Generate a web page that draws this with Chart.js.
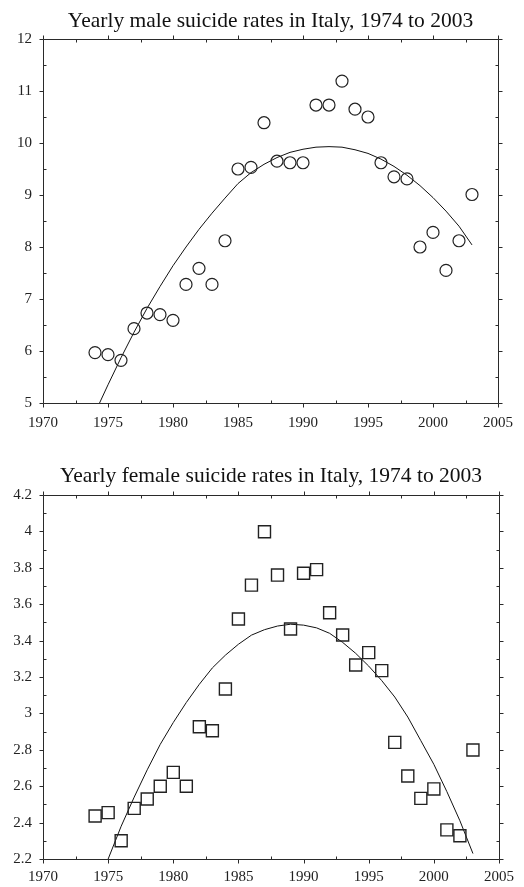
<!DOCTYPE html>
<html><head><meta charset="utf-8">
<script src="https://cdn.jsdelivr.net/npm/chart.js@4.4.1/dist/chart.umd.min.js"></script>
<style>
html,body{margin:0;padding:0;background:#fff;}
#c1{position:absolute;left:0;top:0;}
#c2{position:absolute;left:0;top:440px;}
</style></head><body>
<canvas id="c1" width="524" height="440"></canvas>
<canvas id="c2" width="524" height="447"></canvas>
<script>
const years = [1974,1975,1976,1977,1978,1979,1980,1981,1982,1983,1984,1985,1986,1987,1988,1989,1990,1991,1992,1993,1994,1995,1996,1997,1998,1999,2000,2001,2002,2003];
const maleRates = [5.97,5.93,5.82,6.43,6.73,6.70,6.59,7.28,7.59,7.28,8.12,9.50,9.53,10.39,9.65,9.62,9.62,10.73,10.73,11.19,10.65,10.50,9.62,9.35,9.31,8.00,8.28,7.55,8.12,9.01];
const femaleRates = [2.436,2.455,2.30,2.478,2.53,2.60,2.676,2.60,2.927,2.905,3.134,3.519,3.705,3.998,3.76,3.464,3.77,3.79,3.553,3.431,3.266,3.334,3.235,2.841,2.656,2.533,2.585,2.36,2.328,2.799];
const maleFitYears = [1974.35,1975,1976,1977,1978,1979,1980,1981,1982,1983,1984,1985,1986,1987,1988,1989,1990,1991,1992,1993,1994,1995,1996,1997,1998,1999,2000,2001,2002,2003];
const maleFit = [5.00,5.35,5.87,6.36,6.82,7.24,7.64,8.00,8.34,8.65,8.94,9.22,9.43,9.59,9.72,9.82,9.88,9.92,9.93,9.92,9.87,9.80,9.69,9.55,9.38,9.18,8.95,8.69,8.40,8.04];
const femaleFitYears = [1975,1976,1977,1978,1979,1980,1981,1982,1983,1984,1985,1986,1987,1988,1989,1990,1991,1992,1993,1994,1995,1996,1997,1998,1999,2000,2001,2002,2003];
const femaleFit = [2.20,2.38,2.54,2.69,2.83,2.95,3.06,3.16,3.25,3.32,3.38,3.43,3.46,3.48,3.49,3.485,3.47,3.44,3.39,3.33,3.26,3.18,3.09,2.98,2.85,2.72,2.57,2.41,2.23];
const xTicks = [1970,1975,1980,1985,1990,1995,2000,2005];
const xMinor = [1972.5,1977.5,1982.5,1987.5,1992.5,1997.5,2002.5];
const maleYTicks = [5,6,7,8,9,10,11,12];
const maleYMinor = [5.5,6.5,7.5,8.5,9.5,10.5,11.5];
const femaleYTicks = [2.2,2.4,2.6,2.8,3,3.2,3.4,3.6,3.8,4,4.2];
const femaleYMinor = [2.3,2.5,2.7,2.9,3.1,3.3,3.5,3.7,3.9,4.1];
const maleTitle = 'Yearly male suicide rates in Italy, 1974 to 2003';
const femaleTitle = 'Yearly female suicide rates in Italy, 1974 to 2003';

const FONT = "'Liberation Serif','Times New Roman',serif";
const framePlugin = {
  id: 'frame',
  afterDatasetsDraw(chart, args, o) {
    const {ctx, chartArea: a, scales: {x, y}} = chart;
    ctx.save();
    ctx.strokeStyle = '#2a2a2a';
    ctx.lineWidth = 1;
    const L = Math.round(a.left) + 0.5, R = Math.round(a.right) + 0.5;
    const T = Math.round(a.top) + 0.5, B = Math.round(a.bottom) + 0.5;
    ctx.beginPath();
    ctx.rect(L, T, R - L, B - T);
    const seg = (x1, y1, x2, y2) => { ctx.moveTo(x1, y1); ctx.lineTo(x2, y2); };
    o.xMajor.forEach(v => { const p = Math.round(x.getPixelForValue(v)) + 0.5; seg(p, B, p, B + 4); seg(p, T, p, T - 4); });
    o.xMinor.forEach(v => { const p = Math.round(x.getPixelForValue(v)) + 0.5; seg(p, B, p, B - 3); seg(p, T, p, T + 3); });
    o.yMajor.forEach(v => { const p = Math.round(y.getPixelForValue(v)) + 0.5; seg(L, p, L - 4, p); seg(R, p, R + 4, p); });
    o.yMinor.forEach(v => { const p = Math.round(y.getPixelForValue(v)) + 0.5; seg(L, p, L + 3, p); seg(R, p, R - 3, p); });
    ctx.stroke();
    ctx.restore();
  }
};

function makeChart(id, cfg) {
  return new Chart(document.getElementById(id), {
    type: 'scatter',
    data: {
      datasets: [
        {
          data: years.map((yr, i) => ({x: yr, y: cfg.rates[i]})),
          showLine: false,
          pointStyle: cfg.pointStyle,
          pointRadius: cfg.pointRadius,
          borderColor: '#222',
          borderWidth: cfg.pointWidth,
          backgroundColor: 'rgba(0,0,0,0)'
        },
        {
          data: cfg.fitYears.map((yr, i) => ({x: yr, y: cfg.fit[i]})),
          showLine: true,
          pointRadius: 0,
          borderColor: '#111',
          borderWidth: 1,
          tension: 0,
          fill: false
        }
      ]
    },
    options: {
      responsive: false,
      devicePixelRatio: 1,
      animation: false,
      layout: {padding: {left: 0, right: 25, top: 0, bottom: 0}},
      plugins: {
        legend: {display: false},
        tooltip: {enabled: false},
        title: {
          display: true,
          text: cfg.title,
          fullSize: false,
          color: '#111',
          font: {family: FONT, size: 21.5, weight: 'normal', lineHeight: 1.2},
          padding: cfg.titlePad
        },
        frame: {xMajor: xTicks, xMinor: xMinor, yMajor: cfg.yTicks, yMinor: cfg.yMinor}
      },
      scales: {
        x: {
          type: 'linear',
          min: 1970, max: 2005,
          grid: {display: false, drawTicks: false},
          border: {display: false},
          afterBuildTicks: s => { s.ticks = xTicks.map(v => ({value: v})); },
          afterFit: s => { s.height = cfg.xHeight; },
          ticks: {color: '#222', font: {family: FONT, size: 15}, padding: cfg.xPad, maxRotation: 0, autoSkip: false,
                  callback: v => String(v)}
        },
        y: {
          type: 'linear',
          min: cfg.yMin, max: cfg.yMax,
          grid: {display: false, drawTicks: false},
          border: {display: false},
          afterBuildTicks: s => { s.ticks = cfg.yTicks.map(v => ({value: v})); },
          afterFit: s => { s.width = 43; },
          ticks: {color: '#222', font: {family: FONT, size: 15}, padding: 11, autoSkip: false,
                  callback: v => String(+Number(v).toFixed(1))}
        }
      }
    },
    plugins: [framePlugin]
  });
}

makeChart('c1', {
  rates: maleRates, fitYears: maleFitYears, fit: maleFit, title: maleTitle,
  pointStyle: 'circle', pointRadius: 6, pointWidth: 1.2, yMin: 5, yMax: 12,
  yTicks: maleYTicks, yMinor: maleYMinor, xHeight: 37, xPad: 11,
  titlePad: {top: 8, bottom: 5.2}
});
makeChart('c2', {
  rates: femaleRates, fitYears: femaleFitYears, fit: femaleFit, title: femaleTitle,
  pointStyle: 'rect', pointRadius: 8.5, pointWidth: 1.4, yMin: 2.2, yMax: 4.2,
  yTicks: femaleYTicks, yMinor: femaleYMinor, xHeight: 28, xPad: 8.7,
  titlePad: {top: 23.5, bottom: 5.7}
});
</script>
</body></html>
